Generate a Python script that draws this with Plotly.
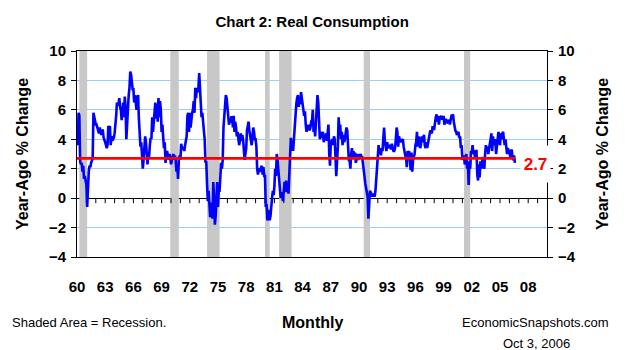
import numpy as np
import plotly.graph_objects as go

# Year-ago % change in real consumption, monthly Jan 1960 - Aug 2006
Y1960 = [4.2, 3.6, 5.8, 5.6, 2.5, 2.3, 2.4, 1.8, 2.2, 1.3, 1.5, 1.0]
Y1961 = [0.9, -0.6, 0.8, 1.8, 2.2, 2.1, 2.4, 2.6, 2.7, 5.8, 5.6, 5.2]
Y1962 = [5.0, 5.0, 4.8, 4.6, 4.4, 4.8, 4.5, 4.3, 4.6, 4.6, 4.1, 4.0]
Y1963 = [3.8, 3.6, 3.4, 3.6, 4.9, 4.8, 4.9, 3.6, 4.2, 3.9, 4.0, 4.1]
Y1964 = [4.4, 5.5, 5.6, 6.5, 6.3, 6.4, 6.8, 6.2, 6.0, 5.3, 5.8, 6.5]
Y1965 = [5.5, 6.9, 6.2, 4.0, 5.0, 6.7, 7.0, 7.5, 8.6, 8.4, 8.0, 7.4]
Y1966 = [7.4, 6.5, 7.0, 6.6, 6.0, 6.8, 7.0, 5.4, 4.5, 3.5, 3.8, 3.0]
Y1967 = [2.0, 2.6, 3.5, 4.2, 3.8, 3.0, 2.3, 3.1, 2.8, 3.6, 4.1, 4.0]
Y1968 = [5.5, 4.5, 5.2, 5.8, 6.5, 5.4, 6.4, 5.2, 6.8, 5.5, 6.6, 6.0]
Y1969 = [4.5, 5.0, 4.2, 3.4, 3.8, 2.4, 3.0, 3.2, 2.9, 2.6, 3.0, 2.8]
Y1970 = [2.3, 2.5, 2.8, 3.0, 2.6, 2.9, 2.6, 1.8, 2.2, 1.3, 2.6, 2.9]
Y1971 = [2.6, 3.7, 3.4, 3.3, 3.5, 3.2, 3.6, 3.9, 4.2, 5.6, 5.8, 4.5]
Y1972 = [5.8, 4.8, 5.6, 5.8, 6.0, 6.6, 5.8, 7.5, 6.8, 7.5, 7.2, 7.5]
Y1973 = [8.5, 7.2, 7.0, 5.5, 5.8, 5.2, 4.8, 4.0, 2.4, 2.5, 1.0, -0.2]
Y1974 = [0.5, -0.3, -1.3, -0.7, -0.3, -1.4, 1.1, 0.0, -1.8, -1.2, -0.2, 1.1]
Y1975 = [-0.6, 0.5, 0.5, 1.2, 2.4, 2.0, 2.6, 4.8, 5.5, 6.6, 7.0, 6.8]
Y1976 = [6.2, 5.8, 5.0, 5.2, 5.2, 5.5, 5.5, 4.8, 5.6, 4.5, 5.2, 4.8]
Y1977 = [4.2, 4.5, 3.8, 3.6, 3.9, 4.4, 3.9, 4.3, 4.0, 3.2, 2.6, 3.0]
Y1978 = [3.4, 4.6, 5.0, 5.2, 4.6, 4.3, 4.0, 3.6, 4.2, 4.8, 4.5, 4.0]
Y1979 = [4.0, 3.5, 2.0, 1.6, 2.0, 1.9, 1.8, 2.1, 2.2, 1.6, 2.1, 1.5]
Y1980 = [1.5, -0.6, -0.4, -1.5, -1.4, -0.8, -1.5, -1.2, -0.3, 0.0, 0.5, 0.2]
Y1981 = [0.8, 2.0, 1.5, 3.0, 2.6, 2.0, 1.5, 0.5, 0.0, 0.4, 0.2, -0.2]
Y1982 = [0.5, 1.1, 0.4, 1.2, 0.4, 0.8, 0.3, 2.0, 2.9, 4.1, 3.6, 3.3]
Y1983 = [3.3, 4.3, 5.2, 5.8, 6.4, 6.8, 7.0, 6.2, 6.6, 6.4, 7.2, 6.8]
Y1984 = [6.5, 6.0, 5.6, 5.9, 5.0, 4.5, 5.0, 4.6, 5.0, 4.6, 4.8, 5.2]
Y1985 = [5.2, 6.0, 4.5, 5.0, 4.2, 5.5, 6.0, 7.0, 6.5, 5.5, 4.0, 4.5]
Y1986 = [4.1, 4.3, 4.5, 3.8, 4.2, 4.0, 4.4, 3.9, 4.6, 5.0, 3.0, 2.2]
Y1987 = [3.8, 3.9, 4.0, 3.6, 4.2, 4.0, 2.5, 1.5, 2.5, 3.5, 5.5, 4.6]
Y1988 = [5.0, 4.0, 4.5, 3.6, 4.3, 3.8, 4.0, 4.6, 4.8, 4.6, 3.5, 2.6]
Y1989 = [2.6, 2.0, 3.0, 3.4, 2.8, 3.2, 2.7, 3.1, 2.4, 2.8, 3.0, 2.6]
Y1990 = [2.8, 2.9, 3.0, 2.8, 2.8, 2.2, 1.8, 1.5, 1.0, 0.6, 0.3, 0.1]
Y1991 = [-1.4, -0.3, 0.5, 0.4, 0.3, 0.1, 0.3, 0.2, 0.1, 0.5, 1.2, 2.0]
Y1992 = [2.8, 3.6, 3.0, 3.4, 2.9, 3.4, 3.2, 4.2, 4.8, 3.9, 3.5, 3.2]
Y1993 = [3.8, 3.4, 3.5, 3.6, 3.6, 3.3, 3.7, 3.4, 3.2, 3.2, 3.4, 4.0]
Y1994 = [4.8, 4.5, 3.5, 4.2, 4.0, 3.8, 3.9, 4.0, 4.0, 3.5, 3.3, 2.9]
Y1995 = [2.9, 2.1, 3.2, 2.9, 3.2, 2.6, 1.9, 3.1, 1.8, 2.6, 2.9, 3.0]
Y1996 = [3.6, 3.8, 4.5, 3.5, 4.2, 3.5, 3.4, 3.6, 4.2, 3.8, 4.1, 4.3]
Y1997 = [3.6, 3.4, 3.8, 3.4, 3.7, 4.0, 4.5, 4.6, 4.5, 4.4, 4.9, 4.7]
Y1998 = [4.7, 5.3, 5.5, 5.7, 5.2, 5.6, 5.0, 5.4, 5.5, 5.6, 5.4, 5.4]
Y1999 = [5.6, 5.0, 5.2, 5.4, 5.1, 5.2, 5.3, 5.3, 5.0, 5.3, 5.6, 5.6]
Y2000 = [5.7, 5.2, 4.8, 4.6, 4.5, 4.3, 4.4, 4.5, 4.1, 4.2, 3.4, 3.6]
Y2001 = [2.6, 2.8, 2.9, 2.3, 2.5, 3.0, 2.0, 2.5, 0.9, 2.5, 2.0, 3.2]
Y2002 = [3.1, 3.6, 3.0, 3.2, 2.8, 3.2, 3.2, 1.6, 1.2, 2.3, 1.4, 2.5]
Y2003 = [2.0, 2.4, 2.8, 2.2, 2.0, 3.0, 3.6, 3.2, 3.5, 3.0, 3.3, 3.5]
Y2004 = [4.0, 4.4, 3.2, 4.2, 3.6, 3.9, 4.0, 3.0, 3.4, 3.8, 4.5, 4.2]
Y2005 = [3.6, 4.4, 4.0, 4.4, 4.5, 4.0, 3.6, 4.0, 3.5, 3.0, 3.4, 3.2]
Y2006 = [3.2, 2.8, 3.2, 3.3, 2.7, 2.6, 2.9, 2.4]

YEARLY = [Y1960, Y1961, Y1962, Y1963, Y1964, Y1965, Y1966, Y1967, Y1968, Y1969,
          Y1970, Y1971, Y1972, Y1973, Y1974, Y1975, Y1976, Y1977, Y1978, Y1979,
          Y1980, Y1981, Y1982, Y1983, Y1984, Y1985, Y1986, Y1987, Y1988, Y1989,
          Y1990, Y1991, Y1992, Y1993, Y1994, Y1995, Y1996, Y1997, Y1998, Y1999,
          Y2000, Y2001, Y2002, Y2003, Y2004, Y2005, Y2006]
START_YEAR = 1960
REFERENCE_LEVEL = 2.7

REC_START = [1960.25, 1969.92, 1973.83, 1980.0, 1981.5, 1990.5, 2001.17]
REC_END = [1961.08, 1970.83, 1975.17, 1980.5, 1982.83, 1991.17, 2001.83]

TICK_YEARS = list(range(1960, 2009, 3))
TICK_TEXT = ["60", "63", "66", "69", "72", "75", "78", "81", "84", "87",
             "90", "93", "96", "99", "02", "05", "08"]
MINOR_TICK_YEARS = list(range(1961, 2010))

values = [v for yr in YEARLY for v in yr]
dates = START_YEAR + np.arange(len(values)) / 12.0
ref_line = [REFERENCE_LEVEL] * len(values)

FONT = "Liberation Sans, Arial, sans-serif"
BLUE = "#0000FF"
RED = "#FF0000"
GRID = "#99CCFF"
SHADE = "#C8C8C8"

Y_MIN, Y_MAX = -4, 10
PLOT_H = 206  # px height of plotting area
tick_len_data = 5 * (Y_MAX - Y_MIN) / PLOT_H

fig = go.Figure()

for s, e in zip(REC_START, REC_END):
    fig.add_shape(type="rect", xref="x", yref="y", x0=s, x1=e, y0=Y_MIN, y1=Y_MAX,
                  fillcolor=SHADE, line=dict(width=0), layer="between")

# yearly tick marks hanging below the zero axis
fig.add_trace(go.Scatter(
    x=MINOR_TICK_YEARS, y=[0] * len(MINOR_TICK_YEARS), mode="markers",
    marker=dict(size=1, opacity=0),
    error_y=dict(type="data", symmetric=False, array=[0] * len(MINOR_TICK_YEARS),
                 arrayminus=[tick_len_data] * len(MINOR_TICK_YEARS),
                 width=0, thickness=1, color="black"),
    hoverinfo="skip", showlegend=False))

fig.add_trace(go.Scatter(x=dates, y=values, mode="lines",
                         line=dict(color=BLUE, width=2.6),
                         hoverinfo="skip", showlegend=False))
fig.add_trace(go.Scatter(x=dates, y=ref_line, mode="lines",
                         line=dict(color=RED, width=2.6),
                         hoverinfo="skip", showlegend=False))
fig.add_trace(go.Scatter(x=dates[:1], y=values[:1], mode="markers",
                         marker=dict(opacity=0), yaxis="y2",
                         hoverinfo="skip", showlegend=False))

tickfont = dict(family=FONT, size=15, color="black", weight="bold")

fig.update_layout(
    width=625, height=350,
    margin=dict(l=77, r=78, t=51, b=93),
    paper_bgcolor="white", plot_bgcolor="white",
    showlegend=False,
    title=dict(text="<b>Chart 2: Real Consumption</b>", x=0.4995, xanchor="center",
               y=1 - 22 / 350, yanchor="middle", yref="container",
               font=dict(family=FONT, size=15, color="black")),
    xaxis=dict(range=[1960, 2010], tickvals=TICK_YEARS, ticktext=TICK_TEXT,
               ticks="", showgrid=False, zeroline=False,
               showline=True, linecolor="black", linewidth=1, mirror=True,
               tickfont=tickfont, ticklabelstandoff=16),
    yaxis=dict(range=[Y_MIN, Y_MAX], dtick=2, tick0=-4, ticks="outside", ticklen=5,
               tickcolor="black", showline=True, linecolor="black",
               showgrid=True, gridcolor=GRID, gridwidth=1,
               zeroline=True, zerolinecolor="black", zerolinewidth=1,
               tickfont=tickfont, ticklabelstandoff=2),
    yaxis2=dict(range=[Y_MIN, Y_MAX], dtick=2, tick0=-4, overlaying="y", side="right",
                ticks="outside", ticklen=5, tickcolor="black",
                showline=True, linecolor="black", showgrid=False,
                zeroline=False, tickfont=tickfont, ticklabelstandoff=2),
)

def px_x(px):
    return (px - 77) / 470.0

def px_y(py):
    return (257 - py) / 206.0

annos = [
    dict(text="<b>Year-Ago % Change</b>", x=px_x(22), y=px_y(154), textangle=-90,
         font=dict(family=FONT, size=16, color="black")),
    dict(text="<b>Year-Ago % Change</b>", x=px_x(602), y=px_y(154), textangle=-90,
         font=dict(family=FONT, size=16, color="black")),
    dict(text="<b>Monthly</b>", x=px_x(312), y=px_y(322),
         font=dict(family=FONT, size=16, color="black")),
    dict(text="Shaded Area = Recession.", x=px_x(10), y=px_y(322), xanchor="left",
         font=dict(family=FONT, size=13, color="black")),
    dict(text="EconomicSnapshots.com", x=px_x(611), y=px_y(322), xanchor="right",
         font=dict(family=FONT, size=13, color="black")),
    dict(text="Oct 3, 2006", x=px_x(536), y=px_y(343),
         font=dict(family=FONT, size=13, color="black")),
    dict(text="<b>%.1f</b>" % REFERENCE_LEVEL, x=px_x(535), y=px_y(164),
         font=dict(family=FONT, size=17, color=RED), bgcolor="white",
         width=27, height=34, borderpad=1),
]
for a in annos:
    a.setdefault("xanchor", "center")
    a.setdefault("yanchor", "middle")
    fig.add_annotation(xref="paper", yref="paper", showarrow=False, **a)

fig.write_html("out.html")
